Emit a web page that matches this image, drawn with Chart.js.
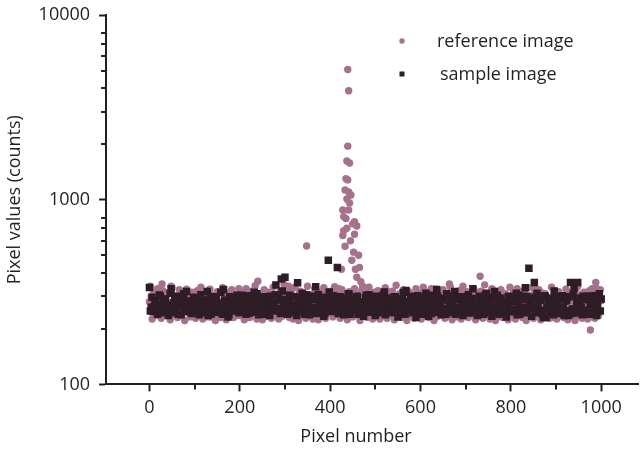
<!DOCTYPE html>
<html>
<head>
<meta charset="utf-8">
<script src="https://cdn.jsdelivr.net/npm/chart.js@4.4.1/dist/chart.umd.min.js"></script>
<style>
  html, body { margin: 0; padding: 0; background: #fff; }
  #wrap { width: 644px; height: 451px; }
</style>
</head>
<body>
<div id="wrap"><canvas id="pixelChart" width="644" height="451"></canvas></div>
<script>
// pixel numbers, read every 4th pixel off the plot, and the ones in between
const pixels = Array.from({ length: 251 }, (_, i) => i * 4);
const pixelsMid = Array.from({ length: 250 }, (_, i) => i * 4 + 2);

// sample image (dark squares)
const sampleCounts = [
  335, 262, 248, 281, 270, 255, 300, 244, 276, 290, 258, 268, 330, 251, 285, 262, 240, 296, 271, 310, 254, 266, 283, 247, 275,
  262, 292, 250, 270, 244, 286, 265, 318, 256, 240, 279, 263, 298, 252, 272, 248, 326, 259, 284, 238, 268, 291, 255, 276, 262,
  249, 304, 270, 256, 287, 243, 266, 282, 315, 258, 272, 250, 293, 264, 240, 280, 262, 300, 253, 276, 345, 258, 286, 372, 266,
  380, 248, 275, 262, 298, 244, 270, 355, 256, 283, 265, 240, 306, 272, 250, 289, 262, 338, 246, 278, 260, 292, 243, 270, 470,
  256, 282, 300, 262, 430, 248, 274, 290, 252, 266, 310, 240, 285, 268, 255, 298, 272, 244, 280, 262, 304, 250, 276, 260, 288,
  236, 268, 292, 255, 278, 316, 250, 270, 244, 286, 262, 298, 256, 276, 240, 290, 268, 322, 252, 280, 260, 300, 246, 272, 258,
  284, 250, 268, 312, 256, 278, 242, 294, 262, 326, 250, 272, 286, 258, 240, 302, 268, 254, 280, 318, 262, 246, 290, 272, 256,
  298, 264, 244, 282, 330, 258, 272, 250, 290, 266, 240, 306, 276, 255, 286, 262, 318, 248, 270, 294, 258, 280, 244, 268, 300,
  256, 282, 248, 312, 268, 240, 290, 262, 334, 250, 425, 276, 258, 356, 244, 270, 286, 252, 230, 300, 264, 278, 246, 288, 320,
  258, 274, 242, 296, 262, 250, 284, 236, 356, 256, 330, 244, 356, 270, 262, 300, 250, 288, 240, 272, 300, 258, 280, 266, 310,
  290
];
const sampleCountsMid = [
  250, 296, 262, 284, 240, 305, 270, 248, 290, 262, 236, 312, 256, 278, 244, 300, 266, 238, 288, 258, 318, 248, 274, 242, 296,
  254, 290, 238, 306, 268, 246, 282, 236, 300, 260, 292, 244, 276, 252, 315, 240, 286, 264, 232, 298, 250, 288, 258, 304, 244,
  292, 252, 280, 240, 302, 262, 246, 296, 256, 310, 238, 284, 260, 298, 246, 290, 236, 278, 266, 306, 250, 294, 242, 320, 258,
  288, 240, 304, 260, 248, 298, 236, 284, 256, 312, 246, 292, 264, 238, 300, 252, 288, 242, 306, 258, 280, 234, 296, 250, 316,
  248, 302, 256, 280, 242, 298, 262, 238, 292, 250, 308, 244, 286, 258, 300, 240, 278, 266, 234, 294, 252, 306, 246, 288, 260,
  300, 244, 284, 258, 306, 238, 294, 252, 280, 246, 298, 262, 232, 290, 250, 314, 240, 282, 256, 298, 244, 288, 230, 302, 254,
  240, 296, 260, 286, 234, 304, 252, 280, 246, 300, 264, 238, 292, 250, 310, 244, 284, 258, 302, 240, 290, 254, 298, 236, 282,
  256, 306, 244, 292, 250, 280, 236, 300, 262, 288, 246, 312, 252, 284, 234, 296, 258, 304, 240, 290, 250, 280, 232, 298, 248,
  294, 248, 284, 238, 304, 256, 290, 244, 300, 262, 280, 234, 296, 252, 312, 246, 286, 240, 302, 230, 292, 254, 282, 238, 298,
  246, 290, 258, 302, 236, 284, 250, 298, 242, 308, 256, 282, 244, 294, 238, 288, 252, 300, 246, 280, 240, 302, 236, 292, 250
];

// reference image (pink dots), baseline
const referenceCounts = [
  280, 300, 255, 266, 246, 288, 270, 350, 312, 252, 276, 262, 340, 244, 290, 268, 256, 305, 238, 274, 262, 296, 250, 284, 268,
  248, 276, 262, 300, 240, 286, 255, 272, 326, 232, 266, 290, 250, 278, 244, 262, 310, 256, 282, 240, 296, 268, 252, 280, 236,
  262, 290, 248, 318, 270, 254, 282, 244, 266, 300, 362, 276, 240, 292, 258, 264, 250, 286, 272, 256, 306, 244, 278, 262, 300,
  268, 252, 340, 280, 258, 296, 246, 272, 312, 262, 288, 250, 561, 266, 298, 254, 280, 320, 262, 246, 288, 272, 318, 300, 284,
  276, 300, 262, 330, 290, 268, 312, 280, 254, 296, 270, 244, 286, 262, 300, 252, 278, 266, 310, 256, 288, 248, 272, 296, 262,
  282, 250, 270, 298, 244, 276, 262, 318, 252, 288, 266, 240, 300, 272, 256, 290, 246, 282, 264, 312, 250, 276, 238, 294, 268,
  256, 300, 272, 244, 286, 262, 330, 250, 278, 292, 240, 268, 312, 256, 282, 264, 350, 248, 276, 296, 258, 284, 244, 270, 302,
  262, 282, 250, 316, 270, 300, 256, 288, 385, 274, 244, 262, 236, 290, 268, 326, 254, 280, 246, 296, 270, 258, 310, 240, 284,
  272, 250, 300, 262, 288, 244, 318, 268, 256, 282, 240, 296, 264, 330, 250, 276, 288, 236, 270, 310, 254, 282, 262, 298, 244,
  276, 260, 300, 246, 284, 268, 238, 316, 256, 290, 270, 250, 340, 262, 284, 244, 300, 272, 256, 197, 330, 262, 356, 288, 300,
  284
];
const referenceCountsMid = [
  340, 226, 318, 236, 330, 244, 228, 322, 250, 236, 312, 224, 334, 240, 300, 230, 326, 238, 310, 222, 328, 246, 232, 316, 240,
  228, 322, 238, 336, 226, 310, 244, 232, 328, 236, 300, 222, 318, 246, 230, 334, 240, 224, 312, 236, 326, 230, 306, 242, 330,
  236, 312, 224, 330, 244, 230, 320, 238, 342, 226, 308, 240, 224, 326, 234, 316, 246, 228, 336, 238, 300, 226, 322, 234, 348,
  240, 328, 230, 318, 226, 336, 244, 222, 320, 238, 312, 228, 340, 234, 306, 226, 330, 242, 224, 316, 236, 334, 228, 310, 244,
  320, 232, 338, 240, 310, 228, 326, 236, 300, 224, 318, 244, 232, 330, 238, 306, 222, 324, 240, 314, 230, 336, 246, 226, 316,
  234, 322, 226, 312, 242, 334, 228, 306, 238, 320, 224, 344, 236, 310, 230, 326, 244, 222, 318, 236, 302, 228, 330, 240, 312,
  226, 336, 238, 316, 230, 304, 246, 222, 328, 234, 312, 240, 326, 228, 300, 236, 338, 224, 318, 244, 232, 322, 226, 340, 236,
  318, 230, 306, 240, 328, 224, 312, 236, 320, 228, 346, 238, 304, 226, 330, 242, 222, 316, 234, 326, 230, 310, 244, 224, 336,
  238, 314, 226, 330, 244, 310, 230, 322, 222, 334, 236, 304, 228, 318, 240, 326, 224, 312, 234, 300, 246, 228, 336, 230, 320,
  226, 318, 240, 300, 230, 328, 224, 310, 238, 320, 222, 334, 236, 306, 228, 316, 244, 226, 322, 232, 310, 228, 330, 236, 326
];

// reference image, the peak around pixel 440
const peakPixels = [439, 441, 439, 437, 443, 435, 439, 433, 441, 446, 437, 443, 428, 441, 430, 435, 454, 459, 430, 437, 450, 428, 433, 454, 463, 465, 459, 472, 420, 425, 448, 456, 468, 445, 452];
const peakCounts = [5070, 3890, 1950, 1620, 1580, 1300, 1280, 1130, 1100, 1060, 1010, 960, 880, 880, 810, 790, 760, 720, 680, 700, 740, 640, 560, 650, 500, 430, 380, 340, 330, 420, 470, 420, 360, 600, 520];

const xMajor = [0, 200, 400, 600, 800, 1000];
const xMinor = [100, 300, 500, 700, 900];
const yMajor = [100, 1000, 10000];
const yMinor = [200, 300, 400, 500, 600, 700, 800, 2000, 3000, 4000, 5000, 6000, 7000, 8000];

const ink = "#231f20";
const refColor = "#a5718d";
const sampColor = "#2e1d25";
const fontFamily = "'Open Sans', sans-serif";

Chart.defaults.font.family = fontFamily;
Chart.defaults.font.size = 18;
Chart.defaults.color = ink;

const toPoints = (xs, ys) => xs.map((p, i) => ({ x: p, y: ys[i] }));
const refPoints = toPoints(pixels, referenceCounts)
  .concat(toPoints(pixelsMid, referenceCountsMid))
  .concat(toPoints(peakPixels, peakCounts));
const sampPoints = toPoints(pixels, sampleCounts)
  .concat(toPoints(pixelsMid, sampleCountsMid));

// minor ticks, legend and x title
const extras = {
  id: "extras",
  afterDraw(chart) {
    const ctx = chart.ctx;
    const xs = chart.scales.x, ys = chart.scales.y;
    ctx.save();
    ctx.strokeStyle = ink;
    ctx.lineWidth = 2;
    xMinor.forEach(v => {
      const px = Math.round(xs.getPixelForValue(v));
      ctx.beginPath();
      ctx.moveTo(px, xs.top);
      ctx.lineTo(px, xs.top + 5);
      ctx.stroke();
    });
    yMinor.forEach(v => {
      const py = Math.round(ys.getPixelForValue(v));
      ctx.beginPath();
      ctx.moveTo(ys.right, py);
      ctx.lineTo(ys.right - 5, py);
      ctx.stroke();
    });

    ctx.fillStyle = refColor;
    ctx.beginPath();
    ctx.arc(402, 41, 2.7, 0, Math.PI * 2);
    ctx.fill();
    ctx.fillStyle = sampColor;
    ctx.fillRect(399.5, 71.5, 5, 5);

    ctx.fillStyle = ink;
    ctx.font = "18px " + fontFamily;
    ctx.textBaseline = "middle";
    ctx.textAlign = "left";
    ctx.fillText("reference image", 437, 42);
    ctx.fillText("sample image", 440, 75);
    ctx.textAlign = "center";
    ctx.fillText("Pixel number", 356, 437);
    ctx.restore();
  }
};

new Chart(document.getElementById("pixelChart"), {
  type: "scatter",
  data: {
    datasets: [
      {
        label: "reference image",
        data: refPoints,
        pointStyle: "circle",
        pointRadius: 3.7,
        pointBorderWidth: 0,
        backgroundColor: refColor,
        borderColor: refColor,
        order: 2
      },
      {
        label: "sample image",
        data: sampPoints,
        pointStyle: "rect",
        pointRadius: 5.3,
        pointBorderWidth: 0,
        backgroundColor: sampColor,
        borderColor: sampColor,
        order: 1
      }
    ]
  },
  options: {
    responsive: false,
    animation: false,
    layout: { padding: { left: 2, top: 0, right: 0, bottom: 26 } },
    plugins: {
      legend: { display: false },
      tooltip: { enabled: false }
    },
    scales: {
      x: {
        type: "linear",
        min: -96,
        max: 1083,
        afterBuildTicks: scale => { scale.ticks = xMajor.map(v => ({ value: v })); },
        ticks: { padding: 6, autoSkip: false, maxRotation: 0, callback: v => String(v) },
        grid: { drawOnChartArea: false, tickLength: 7, tickWidth: 2, tickColor: ink },
        border: { color: ink, width: 2 }
      },
      y: {
        type: "logarithmic",
        min: 100,
        max: 10000,
        afterBuildTicks: scale => { scale.ticks = yMajor.map(v => ({ value: v })); },
        afterFit: scale => { scale.paddingTop = 15; },
        ticks: { padding: 9, autoSkip: false, callback: v => String(v) },
        grid: { drawOnChartArea: false, tickLength: 7, tickWidth: 2, tickColor: ink },
        border: { color: ink, width: 2 },
        title: { display: true, text: "Pixel values (counts)", padding: { top: 2, bottom: 4 } }
      }
    }
  },
  plugins: [extras]
});
</script>
</body>
</html>
